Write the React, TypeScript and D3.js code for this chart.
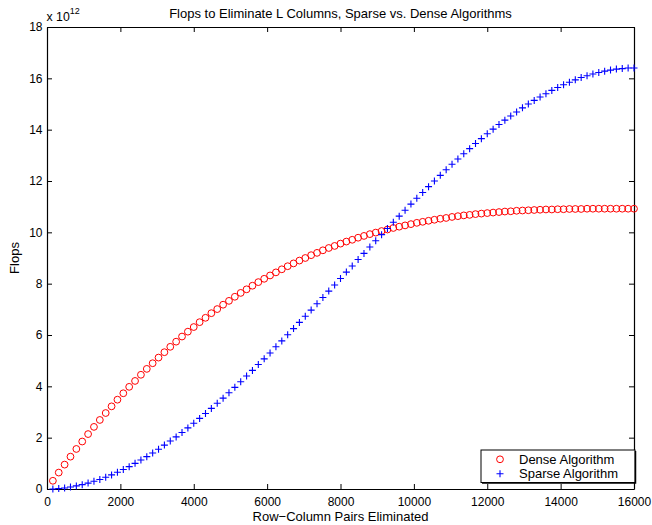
import React, { useRef, useEffect } from 'react';
import * as d3 from 'd3';

// sample positions (row-column pairs eliminated)
const pairs: number[] = d3.range(160, 16001, 160);

// flops, in units of 1e12
const denseFlops: number[] = [
    0.32, 0.64, 0.95, 1.26, 1.56, 1.85, 2.14, 2.42, 2.69, 2.96,
    3.22, 3.48, 3.73, 3.98, 4.21, 4.45, 4.68, 4.90, 5.12, 5.33,
    5.54, 5.74, 5.94, 6.13, 6.31, 6.50, 6.67, 6.85, 7.01, 7.18,
    7.33, 7.49, 7.64, 7.78, 7.92, 8.06, 8.19, 8.32, 8.44, 8.56,
    8.68, 8.79, 8.90, 9.00, 9.11, 9.20, 9.30, 9.39, 9.47, 9.56,
    9.64, 9.71, 9.79, 9.86, 9.93, 9.99, 10.05, 10.11, 10.17, 10.22,
    10.27, 10.32, 10.37, 10.41, 10.45, 10.49, 10.53, 10.56, 10.60, 10.63,
    10.66, 10.68, 10.71, 10.73, 10.75, 10.77, 10.79, 10.81, 10.82, 10.84,
    10.85, 10.86, 10.87, 10.88, 10.89, 10.89, 10.90, 10.90, 10.91, 10.91,
    10.91, 10.92, 10.92, 10.92, 10.92, 10.92, 10.92, 10.92, 10.92, 10.92,
];

const sparseFlops: number[] = [
    0.00, 0.02, 0.04, 0.08, 0.12, 0.17, 0.23, 0.30, 0.37, 0.46,
    0.55, 0.65, 0.76, 0.87, 1.00, 1.13, 1.26, 1.40, 1.55, 1.71,
    1.87, 2.03, 2.20, 2.38, 2.56, 2.75, 2.94, 3.14, 3.34, 3.54,
    3.75, 3.96, 4.18, 4.40, 4.62, 4.85, 5.07, 5.30, 5.54, 5.77,
    6.01, 6.25, 6.49, 6.73, 6.97, 7.22, 7.46, 7.71, 7.95, 8.20,
    8.45, 8.69, 8.94, 9.18, 9.43, 9.67, 9.91, 10.15, 10.39, 10.63,
    10.86, 11.10, 11.33, 11.55, 11.78, 12.00, 12.22, 12.44, 12.65, 12.86,
    13.06, 13.26, 13.46, 13.65, 13.84, 14.02, 14.20, 14.37, 14.53, 14.69,
    14.85, 15.00, 15.14, 15.27, 15.40, 15.53, 15.64, 15.75, 15.85, 15.94,
    16.03, 16.10, 16.17, 16.23, 16.28, 16.32, 16.36, 16.38, 16.40, 16.40,
];

const xTicks: number[] = [0, 2000, 4000, 6000, 8000, 10000, 12000, 14000, 16000];
const yTicks: number[] = [0, 2, 4, 6, 8, 10, 12, 14, 16, 18];
const seriesNames: string[] = ['Dense Algorithm', 'Sparse Algorithm'];

const font = 'Liberation Sans, Arial, Helvetica, sans-serif';

function FlopsChart() {
    const ref = useRef<SVGSVGElement>(null);
    const width = 652;
    const height = 525;
    const margin = { top: 27, right: 18, bottom: 36, left: 47 };

    useEffect(() => {
        if (!ref.current) return;
        document.body.style.margin = '0';
        document.body.style.overflow = 'hidden';
        const svg = d3.select(ref.current);
        svg.selectAll('*').remove();

        const x = d3.scaleLinear().domain([0, 16000]).range([margin.left, width - margin.right]);
        const y = d3.scaleLinear().domain([0, 18]).range([height - margin.bottom, margin.top]);

        svg.append('rect').attr('width', width).attr('height', height).attr('fill', '#fff');

        const tick = 5;
        const tickFont = 12;
        // bottom / top axes with inward ticks
        svg.append('g')
            .attr('transform', `translate(0,${y(0)})`)
            .call(d3.axisBottom(x).tickValues(xTicks).tickSizeInner(-tick).tickSizeOuter(0).tickPadding(8).tickFormat(d3.format('d')))
            .call((g: any) => g.selectAll('text').attr('font-size', tickFont).attr('font-family', font).attr('fill', '#000'));
        svg.append('g')
            .attr('transform', `translate(0,${y(18)})`)
            .call(d3.axisTop(x).tickValues(xTicks).tickSizeInner(-tick).tickSizeOuter(0).tickFormat(() => ''));
        svg.append('g')
            .attr('transform', `translate(${x(0)},0)`)
            .call(d3.axisLeft(y).tickValues(yTicks).tickSizeInner(-tick).tickSizeOuter(0).tickPadding(4.5).tickFormat(d3.format('d')))
            .call((g: any) => g.selectAll('text').attr('font-size', tickFont).attr('font-family', font).attr('fill', '#000'));
        svg.append('g')
            .attr('transform', `translate(${x(16000)},0)`)
            .call(d3.axisRight(y).tickValues(yTicks).tickSizeInner(-tick).tickSizeOuter(0).tickFormat(() => ''));
        svg.selectAll('.domain').attr('stroke', '#000').attr('stroke-width', 1.2);

        const pts = pairs.map((p, i) => ({ p, d: denseFlops[i], s: sparseFlops[i] }));

        // dense markers (o)
        svg.append('g')
            .selectAll('circle')
            .data(pts)
            .join('circle')
            .attr('cx', (d: any) => x(d.p))
            .attr('cy', (d: any) => y(d.d))
            .attr('r', 3.4)
            .attr('fill', 'none')
            .attr('stroke', '#ff0000')
            .attr('stroke-width', 1);

        // sparse markers (+), drawn on top
        svg.append('g')
            .selectAll('path')
            .data(pts)
            .join('path')
            .attr('d', (d: any) => `M${x(d.p) - 3.5},${y(d.s)}h7M${x(d.p)},${y(d.s) - 3.5}v7`)
            .attr('stroke', '#0000ff')
            .attr('stroke-width', 1.1)
            .attr('fill', 'none');

        // legend
        const lg = svg.append('g');
        const lx = x(16000) - 153;
        const ly = y(0) - 39;
        lg.append('rect').attr('x', lx).attr('y', ly).attr('width', 154).attr('height', 32.5)
            .attr('fill', '#fff').attr('stroke', '#000').attr('stroke-width', 1);
        lg.append('path')
            .attr('d', `M${lx + 1},${ly + 33}H${lx + 154.5}V${ly + 1}`)
            .attr('stroke', '#000').attr('stroke-width', 1.5).attr('fill', 'none');
        seriesNames.forEach((name, i) => {
            const cy = ly + 9.3 + i * 14.5;
            if (i === 0) {
                lg.append('circle').attr('cx', lx + 19).attr('cy', cy).attr('r', 3.4)
                    .attr('fill', 'none').attr('stroke', '#ff0000');
            } else {
                lg.append('path').attr('d', `M${lx + 15.5},${cy}h7M${lx + 19},${cy - 3.5}v7`)
                    .attr('stroke', '#0000ff').attr('stroke-width', 1.1);
            }
            lg.append('text').attr('x', lx + 38).attr('y', cy + 4.3)
                .attr('font-size', 13).attr('font-family', font).text(name);
        });

        // titles
        svg.append('text')
            .attr('x', (x(0) + x(16000)) / 2).attr('y', 18)
            .attr('text-anchor', 'middle').attr('font-size', 13).attr('font-family', font)
            .text('Flops to Eliminate L Columns, Sparse vs. Dense Algorithms');
        svg.append('text')
            .attr('x', (x(0) + x(16000)) / 2).attr('y', 521)
            .attr('text-anchor', 'middle').attr('font-size', 13).attr('font-family', font)
            .text('Row\u2212Column Pairs Eliminated');
        svg.append('text')
            .attr('transform', `translate(19,${(y(0) + y(18)) / 2}) rotate(-90)`)
            .attr('text-anchor', 'middle').attr('font-size', 13).attr('font-family', font)
            .text('Flops');
        const exp = svg.append('text').attr('x', 46.5).attr('y', 21)
            .attr('font-size', 12.3).attr('font-family', font);
        exp.append('tspan').text('x 10');
        exp.append('tspan').attr('dy', -7.5).attr('font-size', 9).text('12');
    }, []);

    return <svg ref={ref} width={width} height={height} style={{ display: 'block' }} />;
}

export default function App() {
    return <FlopsChart />;
}
